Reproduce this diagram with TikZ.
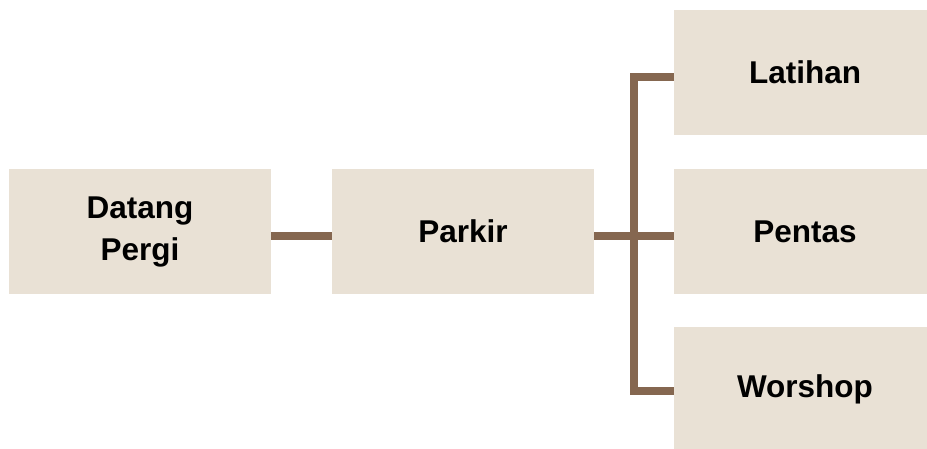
\documentclass[tikz,border=0pt]{standalone}
\usepackage{fontspec}
\setmainfont{Liberation Sans}
\usepackage{tikz}
\definecolor{boxfill}{HTML}{E9E1D5}
\definecolor{linkbrown}{HTML}{856750}
\tikzset{
  stepbox/.style={fill=boxfill, draw=none, inner sep=0pt, align=center,
    minimum width=262pt, minimum height=125pt,
    font=\fontsize{31.5}{42}\selectfont\bfseries},
  link/.style={draw=linkbrown, line width=8pt}
}

\begin{document}
\begin{tikzpicture}[x=1pt, y=-1pt]
  \useasboundingbox (0,0) rectangle (927,448);
  % Left chain
  \node[stepbox] (dp) at (140,231.5) {Datang\\Pergi};
  \node[stepbox] (pk) at (463,231.5) {Parkir};
  % Right branches
  \node[stepbox] (lt) at (805,72.5) {Latihan};
  \node[stepbox] (pn) at (805,231.5) {Pentas};
  \node[stepbox] (ws) at (805,389.5) {Worshop};
  \coordinate (jn) at (634,235.5);
  % Connectors
  \draw[link] ([yshift=-4pt]dp.east) -- ([yshift=-4pt]pk.west);
  \draw[link] ([yshift=-4pt]pk.east) -- ([yshift=-4pt]pn.west);
  \draw[link] ([yshift=-4pt]lt.west) -| (jn) |- ([yshift=-1pt]ws.west);
\end{tikzpicture}
\end{document}
